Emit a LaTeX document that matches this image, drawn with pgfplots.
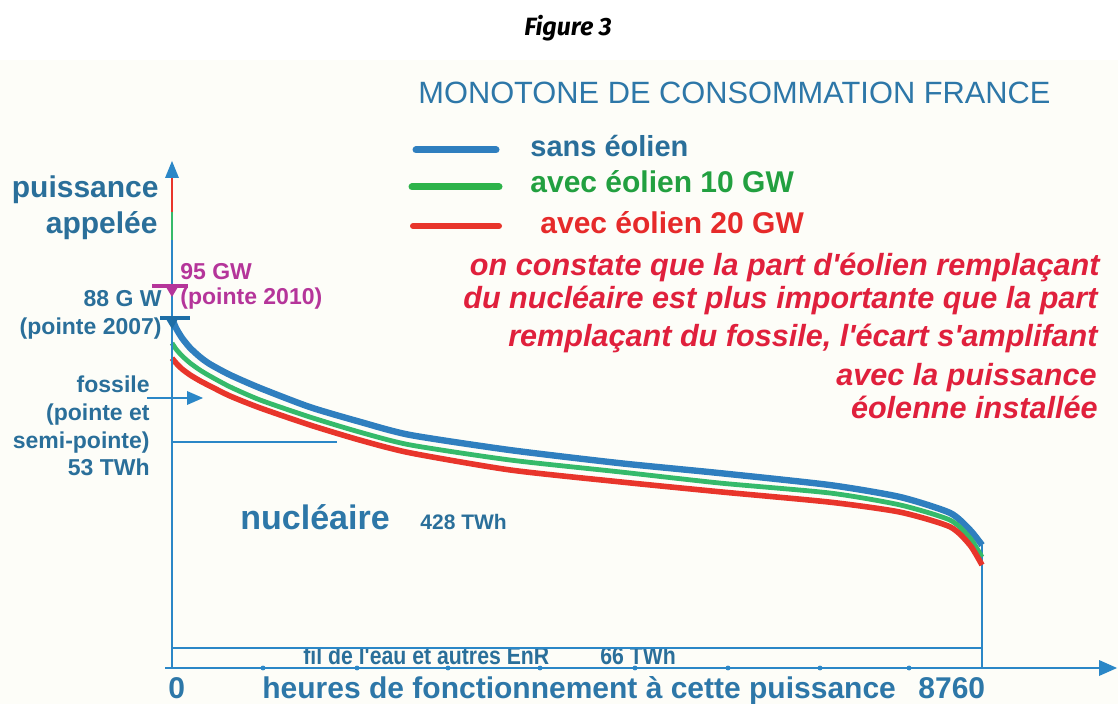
\documentclass[border=0pt]{standalone}
\usepackage{pgfplots}
\pgfplotsset{compat=1.18}
\usepackage{fontspec}
\setmainfont{Liberation Sans}
\newfontfamily\figfont{Fira Sans}
\usetikzlibrary{arrows.meta}
\definecolor{bgcream}{HTML}{FDFDF8}
\definecolor{axblue}{HTML}{2B87C7}
\definecolor{txtblue}{HTML}{2A6F9A}
\definecolor{ttlblue}{HTML}{2D77A8}
\definecolor{cblue}{HTML}{2F7FBF}
\definecolor{cgreen}{HTML}{35BA6A}
\definecolor{cred}{HTML}{E8352B}
\definecolor{lgreen}{HTML}{2DB34A}
\definecolor{tgreen}{HTML}{22A040}
\definecolor{tred}{HTML}{E62A2A}
\definecolor{pred}{HTML}{E0203C}
\definecolor{magen}{HTML}{B5359A}
\definecolor{darkb}{HTML}{1E6EA6}

\pgfplotstableread{
h GW
0 88.0
43 85.5
108 83.0
195 80.5
303 78.2
411 76.4
627 73.7
952 70.4
1492 65.6
2033 61.9
2574 58.6
3655 54.8
4845 51.5
5927 49.0
7116 46.0
7873 43.0
8414 39.0
8630 34.7
8760 30.9
}\sansEol
\pgfplotstableread{
h GW
0 81.7
43 80.2
108 78.5
195 76.7
303 74.9
411 73.4
627 70.7
952 67.4
1492 63.1
2033 59.3
2574 56.1
3655 52.3
4845 49.3
5927 46.5
7116 44.0
7873 41.0
8414 37.2
8630 32.7
8760 27.9
}\dixGW
\pgfplotstableread{
h GW
0 77.9
43 76.7
108 75.2
195 73.7
303 72.2
411 70.9
627 68.4
952 65.4
1492 61.1
2033 57.3
2574 54.1
3655 49.8
4845 46.8
5927 44.3
7116 41.7
7873 39.2
8414 35.5
8630 30.9
8760 25.9
}\vingtGW

\begin{document}
\begin{tikzpicture}
\useasboundingbox (0,0) rectangle (559pt,-352pt);
\fill[white] (0,0) rectangle (559pt,-352pt);
\fill[bgcream] (0,-30pt) rectangle (559pt,-352pt);
\begin{scope}[x=0.5pt,y=-0.5pt]
\begin{scope}
\clip (280,649) rectangle (720,668);
\node[anchor=base west, inner sep=0pt, txtblue, xscale=0.85] at (303,664) {\fontsize{12.5}{14}\selectfont\bfseries fil de l\textquotesingle eau et autres EnR};
\node[anchor=base west, inner sep=0pt, txtblue, xscale=0.85] at (600,664) {\fontsize{12.5}{14}\selectfont\bfseries 66 TWh};
\end{scope}
\end{scope}
\begin{axis}[at={(0,0)}, anchor=north west, scale only axis,
  width=559pt, height=352pt,
  xmin=-1860.1, xmax=10230.8, ymin=-9.052, ymax=167.97,
  hide axis, clip=false]
% reference lines
\draw[axblue, line width=0.8pt] (axis cs:0,5.03) -- (axis cs:8760,5.03);
\draw[axblue, line width=0.8pt] (axis cs:8760,0) -- (axis cs:8760,30.9);
\draw[axblue, line width=0.8pt] (axis cs:0,56.8) -- (axis cs:1785,56.8);
% curves
\addplot[cblue, line width=3.2pt, smooth, tension=0.4] table[x=h,y=GW] {\sansEol};
\addplot[cgreen, line width=2.4pt, smooth, tension=0.4] table[x=h,y=GW] {\dixGW};
\addplot[cred, line width=2.8pt, smooth, tension=0.4] table[x=h,y=GW] {\vingtGW};
% x ticks
\addplot[only marks, mark=*, mark size=1pt, axblue] coordinates {(984,0) (2001,0) (2985,0) (3980,0) (5007,0) (6013,0) (7008,0) (7971,0)};
\end{axis}
\begin{scope}[x=0.5pt,y=-0.5pt]
% axes
\draw[axblue, line width=1pt] (172,668) -- (172,177);
\draw[cred, line width=0.8pt] (172,178) -- (172,212);
\draw[cgreen, line width=0.8pt] (172,212) -- (172,240);
\fill[axblue] (172,161) -- (165,178) -- (179,178) -- cycle;
\draw[axblue, line width=1pt] (165,668) -- (1100,668);
\fill[axblue] (1117,668) -- (1099,660) -- (1099,676) -- cycle;
% peak marks
\draw[magen, line width=1.6pt] (152,286) -- (188,286);
\fill[magen] (166,287) -- (178,287) -- (172,297) -- cycle;
\draw[darkb, line width=2pt] (160,318) -- (190,318);
\fill[darkb] (166,319) -- (178,319) -- (172,329) -- cycle;
% fossile arrow
\draw[axblue, line width=1pt] (147,398) -- (190,398);
\fill[axblue] (203,398) -- (187,391) -- (187,405) -- cycle;
% legend lines
\draw[cblue, line width=3.5pt, line cap=round] (416,150) -- (496,150);
\draw[lgreen, line width=3.5pt, line cap=round] (412,187) -- (499,187);
\draw[cred, line width=3pt, line cap=round] (413,226) -- (499,226);
% texts
\node[anchor=base, inner sep=0pt] at (568,36) {\figfont\fontsize{12.5}{14}\selectfont\bfseries\itshape Figure 3};
\node[anchor=base west, inner sep=0pt, ttlblue] at (418,104) {\fontsize{15.4}{18}\selectfont MONOTONE DE CONSOMMATION FRANCE};
\node[anchor=base west, inner sep=0pt, txtblue] at (530,157) {\fontsize{14.5}{17}\selectfont\bfseries sans éolien};
\node[anchor=base west, inner sep=0pt, tgreen] at (530,193) {\fontsize{15}{17}\selectfont\bfseries avec éolien 10 GW};
\node[anchor=base west, inner sep=0pt, tred] at (540,234) {\fontsize{15}{17}\selectfont\bfseries avec éolien 20 GW};
\begin{scope}[every node/.style={anchor=base east, inner sep=0pt, pred, font=\fontsize{15.3}{18}\selectfont\bfseries\itshape}]
\node at (1100,276) {on constate que la part d\textquotesingle éolien remplaçant};
\node at (1098,309) {du nucléaire est plus importante que la part};
\node at (1098,347) {remplaçant du fossile, l\textquotesingle écart s\textquotesingle amplifant};
\node at (1097,386) {avec la puissance};
\node at (1098,419) {éolenne installée};
\end{scope}
\begin{scope}[every node/.style={anchor=base east, inner sep=0pt, txtblue, font=\fontsize{15}{18}\selectfont\bfseries}]
\node at (159,198) {puissance};
\node at (158,234) {appelée};
\end{scope}
\begin{scope}[every node/.style={anchor=base west, inner sep=0pt, magen, font=\fontsize{11.5}{14}\selectfont\bfseries}]
\node at (180,280) {95 GW};
\node at (180,305) {(pointe 2010)};
\end{scope}
\begin{scope}[every node/.style={anchor=base east, inner sep=0pt, txtblue, font=\fontsize{11.5}{14}\selectfont\bfseries}]
\node at (162,307) {88 G W};
\node at (162,335) {(pointe 2007)};
\node at (150,393) {fossile};
\node at (150,421) {(pointe et};
\node at (150,449) {semi-pointe)};
\node at (150,476) {53 TWh};
\end{scope}
\node[anchor=base west, inner sep=0pt, ttlblue] at (240,530) {\fontsize{17}{20}\selectfont\bfseries nucléaire};
\node[anchor=base west, inner sep=0pt, txtblue] at (420,530) {\fontsize{10.5}{13}\selectfont\bfseries 428 TWh};
\begin{scope}[every node/.style={anchor=base west, inner sep=0pt, ttlblue, font=\fontsize{15}{18}\selectfont\bfseries}]
\node at (168,698) {0};
\node at (262,698) {heures de fonctionnement à cette puissance};
\node at (918,698) {8760};
\end{scope}
\end{scope}
\end{tikzpicture}
\end{document}
